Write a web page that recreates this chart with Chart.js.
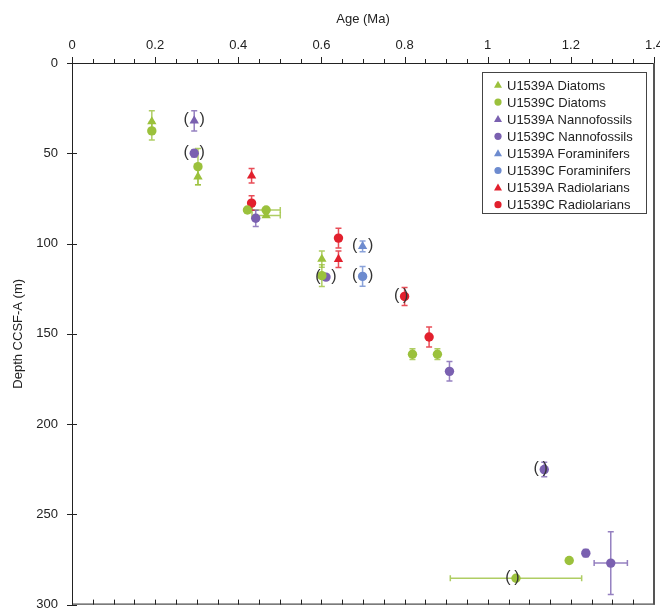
<!DOCTYPE html>
<html>
<head>
<meta charset="utf-8">
<script src="https://cdn.jsdelivr.net/npm/chart.js@4"></script>
<style>
html, body { margin: 0; padding: 0; background: #fff; }
</style>
</head>
<body>
<canvas id="c" width="660" height="610"></canvas>
<script>
// U1539A Diatoms
const diaA_age   = [0.192, 0.303, 0.467, 0.601];
const diaA_depth = [32.5, 63, 84.5, 108.6];
const diaA_dErr  = [6, 4.5, 0, 4.5];
const diaA_aErr  = [0, 0, 0.034, 0];
const diaA_paren = [0, 0, 0, 0];
// U1539C Diatoms
const diaC_age   = [0.192, 0.303, 0.422, 0.467, 0.601, 0.819, 0.879, 1.196, 1.068];
const diaC_depth = [37.6, 57.4, 81.4, 81.4, 117.8, 161.3, 161.3, 275.6, 285.4];
const diaC_dErr  = [5, 10, 0, 0, 6, 3, 3, 0, 0];
const diaC_aErr  = [0, 0, 0, 0.034, 0, 0, 0, 0, 0.158];
const diaC_paren = [0, 0, 0, 0, 0, 0, 0, 0, 2];
// U1539A Nannofossils
const nanA_age   = [0.294];
const nanA_depth = [32];
const nanA_dErr  = [5.6];
const nanA_aErr  = [0];
const nanA_paren = [1];
// U1539C Nannofossils
const nanC_age   = [0.294, 0.442, 0.611, 0.908, 1.136, 1.236, 1.296];
const nanC_depth = [50, 86, 118.6, 170.8, 225.2, 271.5, 277];
const nanC_dErr  = [2, 4.5, 0, 5.4, 4, 2, 17.4];
const nanC_aErr  = [0, 0, 0, 0, 0, 0, 0.04];
const nanC_paren = [1, 0, 1, 0, 2, 0, 0];
// U1539A Foraminifers
const forA_age   = [0.699];
const forA_depth = [101.6];
const forA_dErr  = [3];
const forA_aErr  = [0];
const forA_paren = [1];
// U1539C Foraminifers
const forC_age   = [0.699];
const forC_depth = [118.2];
const forC_dErr  = [5.5];
const forC_aErr  = [0];
const forC_paren = [1];
// U1539A Radiolarians
const radA_age   = [0.432, 0.641];
const radA_depth = [62.5, 108.7];
const radA_dErr  = [4, 4.6];
const radA_aErr  = [0, 0];
const radA_paren = [0, 0];
// U1539C Radiolarians
const radC_age   = [0.432, 0.641, 0.80, 0.859];
const radC_depth = [77.6, 97, 129.3, 151.8];
const radC_dErr  = [4, 5.5, 5, 5.5];
const radC_aErr  = [0, 0, 0, 0];
const radC_paren = [0, 0, 2, 0];

const xTicks = [0, 0.2, 0.4, 0.6, 0.8, 1, 1.2, 1.4];
const yTicks = [0, 50, 100, 150, 200, 250, 300];

const FONT = '"Liberation Sans", Arial, sans-serif';
const GREEN = '#9bc13c', PURPLE = '#7a60b0', BLUE = '#6d8bcf', RED = '#e2202d';

// paren: 1 = "( x )", 2 = "(x)" with the closing bracket over the marker
function makeSet(label, color, errColor, shape, age, depth, dErr, aErr, paren) {
    return {
        label: label,
        data: age.map((a, i) => ({ x: a, y: depth[i] })),
        dErr: dErr, aErr: aErr, paren: paren, errColor: errColor,
        pointStyle: shape,
        pointRadius: shape === 'triangle' ? 5.4 : 4.7,
        backgroundColor: color,
        borderColor: color,
        borderWidth: 0,
        showLine: false
    };
}

const datasets = [
    makeSet('U1539A Diatoms', GREEN, 'rgba(155,193,60,0.8)', 'triangle', diaA_age, diaA_depth, diaA_dErr, diaA_aErr, diaA_paren),
    makeSet('U1539C Diatoms', GREEN, 'rgba(155,193,60,0.8)', 'circle', diaC_age, diaC_depth, diaC_dErr, diaC_aErr, diaC_paren),
    makeSet('U1539A Nannofossils', PURPLE, 'rgba(122,96,176,0.8)', 'triangle', nanA_age, nanA_depth, nanA_dErr, nanA_aErr, nanA_paren),
    makeSet('U1539C Nannofossils', PURPLE, 'rgba(122,96,176,0.8)', 'circle', nanC_age, nanC_depth, nanC_dErr, nanC_aErr, nanC_paren),
    makeSet('U1539A Foraminifers', BLUE, 'rgba(109,139,207,0.8)', 'triangle', forA_age, forA_depth, forA_dErr, forA_aErr, forA_paren),
    makeSet('U1539C Foraminifers', BLUE, 'rgba(109,139,207,0.8)', 'circle', forC_age, forC_depth, forC_dErr, forC_aErr, forC_paren),
    makeSet('U1539A Radiolarians', RED, 'rgba(226,32,45,0.8)', 'triangle', radA_age, radA_depth, radA_dErr, radA_aErr, radA_paren),
    makeSet('U1539C Radiolarians', RED, 'rgba(226,32,45,0.8)', 'circle', radC_age, radC_depth, radC_dErr, radC_aErr, radC_paren)
];

// error bars, drawn under the markers
const errorBars = {
    id: 'errorBars',
    beforeDatasetsDraw(chart) {
        const ctx = chart.ctx, xs = chart.scales.x, ys = chart.scales.y;
        ctx.save();
        ctx.lineWidth = 1.5;
        chart.data.datasets.forEach(ds => {
            ctx.strokeStyle = ds.errColor;
            ds.data.forEach((p, i) => {
                const x = xs.getPixelForValue(p.x), y = ys.getPixelForValue(p.y);
                const de = ds.dErr[i], ae = ds.aErr[i];
                ctx.beginPath();
                if (de) {
                    const y1 = ys.getPixelForValue(p.y - de), y2 = ys.getPixelForValue(p.y + de);
                    ctx.moveTo(x, y1); ctx.lineTo(x, y2);
                    ctx.moveTo(x - 3, y1); ctx.lineTo(x + 3, y1);
                    ctx.moveTo(x - 3, y2); ctx.lineTo(x + 3, y2);
                }
                if (ae) {
                    const x1 = xs.getPixelForValue(p.x - ae), x2 = xs.getPixelForValue(p.x + ae);
                    ctx.moveTo(x1, y); ctx.lineTo(x2, y);
                    ctx.moveTo(x1, y - 3); ctx.lineTo(x1, y + 3);
                    ctx.moveTo(x2, y - 3); ctx.lineTo(x2, y + 3);
                }
                ctx.stroke();
            });
        });
        ctx.restore();
    }
};

// brackets round the uncertain datums
const brackets = {
    id: 'brackets',
    afterDatasetsDraw(chart) {
        const ctx = chart.ctx, xs = chart.scales.x, ys = chart.scales.y;
        ctx.save();
        ctx.font = '16px ' + FONT;
        ctx.fillStyle = '#333';
        ctx.textAlign = 'center';
        ctx.textBaseline = 'middle';
        chart.data.datasets.forEach(ds => {
            ds.data.forEach((p, i) => {
                const kind = ds.paren[i];
                if (!kind) return;
                const x = xs.getPixelForValue(p.x), y = ys.getPixelForValue(p.y);
                ctx.fillText('(', x - 8, y - 1);
                ctx.fillText(')', kind === 1 ? x + 8 : x + 1, y - 1);
            });
        });
        ctx.restore();
    }
};

// axis lines and tick marks
const frame = {
    id: 'frame',
    afterDraw(chart) {
        const ctx = chart.ctx, a = chart.chartArea, xs = chart.scales.x, ys = chart.scales.y;
        ctx.save();
        ctx.strokeStyle = '#222';
        ctx.lineWidth = 1;
        ctx.beginPath();
        ctx.moveTo(a.left, a.top + 0.5); ctx.lineTo(a.right, a.top + 0.5);
        ctx.moveTo(a.left + 0.5, a.top); ctx.lineTo(a.left + 0.5, a.bottom);
        ctx.moveTo(a.left, a.bottom - 0.5); ctx.lineTo(a.right, a.bottom - 0.5);
        for (let k = 0; k <= 28; k++) {
            const x = Math.round(xs.getPixelForValue(k * 0.05)) + 0.5;
            ctx.moveTo(x, a.top); ctx.lineTo(x, a.top - (k % 4 === 0 ? 6 : 4));
            ctx.moveTo(x, a.bottom); ctx.lineTo(x, a.bottom - 5);
        }
        yTicks.forEach(v => {
            const y = Math.round(ys.getPixelForValue(v)) + 0.5;
            ctx.moveTo(a.left - 5, y); ctx.lineTo(a.left + 5, y);
        });
        ctx.stroke();
        ctx.strokeStyle = '#555';
        ctx.lineWidth = 2;
        ctx.beginPath();
        ctx.moveTo(a.right, a.top); ctx.lineTo(a.right, a.bottom);
        ctx.stroke();
        ctx.restore();
    }
};

// boxed legend inside the plot area
const boxLegend = {
    id: 'boxLegend',
    afterDraw(chart) {
        const ctx = chart.ctx;
        const bx = 482, by = 72, bw = 164, bh = 141;
        ctx.save();
        ctx.fillStyle = '#fff';
        ctx.fillRect(bx, by, bw, bh);
        ctx.strokeStyle = '#444';
        ctx.lineWidth = 1;
        ctx.strokeRect(bx + 0.5, by + 0.5, bw, bh);
        ctx.font = '13px ' + FONT;
        ctx.textBaseline = 'middle';
        chart.data.datasets.forEach((ds, i) => {
            const y = by + 13 + i * 17.1;
            ctx.fillStyle = ds.backgroundColor;
            ctx.beginPath();
            if (ds.pointStyle === 'triangle') {
                ctx.moveTo(498, y - 4.2); ctx.lineTo(502, y + 2.8); ctx.lineTo(494, y + 2.8);
            } else {
                ctx.arc(498, y, 3.6, 0, Math.PI * 2);
            }
            ctx.fill();
            ctx.fillStyle = '#222';
            ctx.fillText(ds.label, 507, y + 1);
        });
        ctx.restore();
    }
};

new Chart(document.getElementById('c'), {
    type: 'scatter',
    data: { datasets: datasets },
    options: {
        responsive: false,
        animation: false,
        layout: { padding: { top: 0, right: 6, bottom: 5, left: 0 } },
        plugins: { legend: { display: false }, tooltip: { enabled: false } },
        scales: {
            x: {
                type: 'linear', position: 'top', min: 0, max: 1.4,
                grid: { display: false, drawTicks: false },
                border: { display: false },
                afterFit: s => { s.height = 63; s.paddingLeft = 0; s.paddingRight = 0; },
                afterBuildTicks: s => { s.ticks = xTicks.map(v => ({ value: v })); },
                ticks: {
                    padding: 10, color: '#222', font: { family: FONT, size: 13 },
                    callback: v => String(+v.toFixed(1))
                },
                title: {
                    display: true, text: 'Age (Ma)', color: '#222',
                    font: { family: FONT, size: 13 }, padding: { top: 12, bottom: 0 }
                }
            },
            y: {
                type: 'linear', position: 'left', reverse: true, min: 0, max: 300,
                grid: { display: false, drawTicks: false },
                border: { display: false },
                afterFit: s => { s.width = 72; s.paddingTop = 0; s.paddingBottom = 0; },
                afterBuildTicks: s => { s.ticks = yTicks.map(v => ({ value: v })); },
                ticks: { padding: 14, color: '#222', font: { family: FONT, size: 13 } },
                title: {
                    display: true, text: 'Depth CCSF-A (m)', color: '#222',
                    font: { family: FONT, size: 13 }, padding: { top: 11, bottom: 0 }
                }
            }
        }
    },
    plugins: [errorBars, brackets, frame, boxLegend]
});
</script>
</body>
</html>
